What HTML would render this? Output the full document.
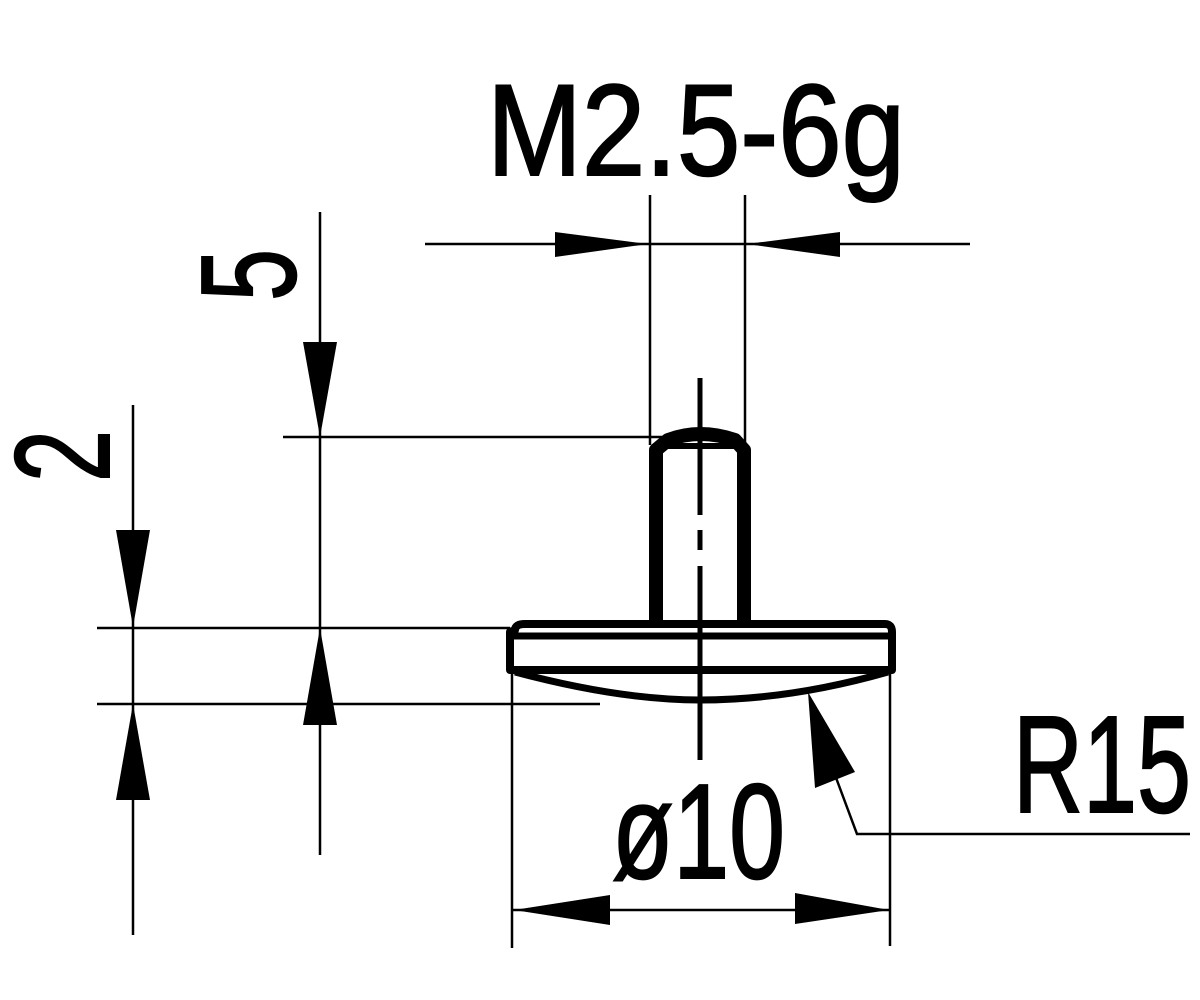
<!DOCTYPE html>
<html><head><style>html,body{margin:0;padding:0;background:#fff}svg{display:block}</style></head>
<body>
<svg width="1200" height="1000" viewBox="0 0 1200 1000" xmlns="http://www.w3.org/2000/svg">
<g stroke="#000" fill="none" stroke-width="2.5">
  <line x1="425" y1="244" x2="970" y2="244"/>
  <line x1="650" y1="195" x2="650" y2="445"/>
  <line x1="745" y1="195" x2="745" y2="445"/>
  <line x1="320" y1="212" x2="320" y2="855"/>
  <line x1="283" y1="437" x2="690" y2="437"/>
  <line x1="133" y1="405" x2="133" y2="935"/>
  <line x1="97" y1="628" x2="510" y2="628"/>
  <line x1="97" y1="704" x2="600" y2="704"/>
  <line x1="512" y1="672" x2="512" y2="948"/>
  <line x1="890" y1="672" x2="890" y2="946"/>
  <line x1="513" y1="910" x2="890" y2="910"/>
  <polyline points="835,775 857,834 1190,834"/>
  <line x1="700" y1="378" x2="700" y2="515" stroke-width="5"/>
  <line x1="700" y1="530" x2="700" y2="550" stroke-width="5"/>
  <line x1="700" y1="566" x2="700" y2="760" stroke-width="5"/>
</g>
<g stroke="#000" fill="none" stroke-width="8" stroke-linejoin="round">
  <path d="M656,622 V450 L668,440 Q700,428 735,440 L744,450 V622" stroke-width="14"/>
  <line x1="664" y1="446" x2="738" y2="446" stroke-width="6"/>
  <path d="M515,630 Q515,624 525,624 H885 Q892,624 892,632 V670 H510 V632 Z" stroke-width="8"/>
  <line x1="512" y1="636" x2="892" y2="636" stroke-width="7"/>
  <path d="M515,672 Q620,700 700,700 Q790,700 888,672" stroke-width="7"/>
</g>
<g fill="#000">
  <polygon points="648,244 555,232 555,257"/>
  <polygon points="747,244 840,232 840,257"/>
  <polygon points="320,437 303,342 337,342"/>
  <polygon points="320,628 303,725 337,725"/>
  <polygon points="133,627 116,530 150,530"/>
  <polygon points="133,704 116,800 150,800"/>
  <polygon points="514,910 610,895 610,925"/>
  <polygon points="889,910 795,893 795,924"/>
  <polygon points="808,692 815,788 855,772"/>
</g>
<g font-family="Liberation Sans, sans-serif" fill="#000" stroke="#000" stroke-width="2">
  <text x="487" y="175" font-size="130" textLength="418" lengthAdjust="spacingAndGlyphs">M2.5-6g</text>
  <text x="1013" y="812" font-size="138" textLength="178" lengthAdjust="spacingAndGlyphs">R15</text>
  <text x="612" y="878" font-size="135" textLength="173" lengthAdjust="spacingAndGlyphs">ø10</text>
  <text transform="translate(295,301) rotate(-90)" font-size="135" textLength="52" lengthAdjust="spacingAndGlyphs">5</text>
  <text transform="translate(109,482) rotate(-90)" font-size="135" textLength="52" lengthAdjust="spacingAndGlyphs">2</text>
</g>
</svg>
</body></html>
